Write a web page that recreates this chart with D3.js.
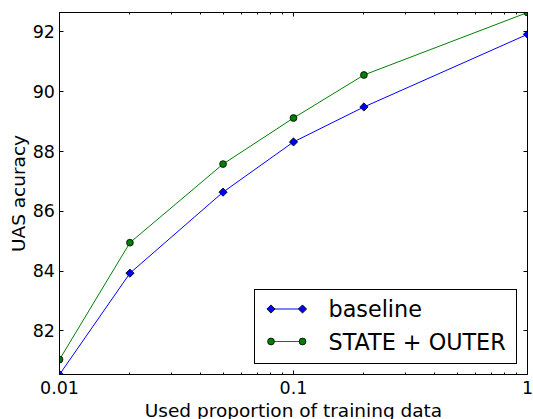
<!DOCTYPE html>
<html>
<head>
<meta charset="utf-8">
<script src="https://cdn.jsdelivr.net/npm/d3@7"></script>
<style>
  html, body { margin: 0; padding: 0; background: #fff; }
  svg { display: block; }
  text { font-family: "DejaVu Sans", sans-serif; fill: #000; }
</style>
</head>
<body>
<svg id="chart" width="533" height="419"></svg>
<script>
// ---- data ----
const proportions = [0.01, 0.02, 0.05, 0.1, 0.2, 1];
const baseline    = [80.54, 83.93, 86.64, 88.32, 89.49, 91.92];
const stateOuter  = [81.04, 84.95, 87.58, 89.12, 90.56, 92.65];
const seriesNames = ["baseline", "STATE + OUTER"];
const xTickValues = [0.01, 0.1, 1];
const xTickLabels = ["0.01", "0.1", "1"];
const yTickValues = [82, 84, 86, 88, 90, 92];
const xLabel = "Used proportion of training data";
const yLabel = "UAS acuracy";

const colors = ["#0000ff", "#008000"];

const svg = d3.select("#chart");
const L = 59.5, R = 527.5, T = 12.5, B = 374.5;

const x = d3.scaleLog().domain([0.01, 1]).range([L, R]);
const allVals = baseline.concat(stateOuter);
const y = d3.scaleLinear().domain(d3.extent(allVals)).range([B, T]);

// clip
svg.append("defs").append("clipPath").attr("id", "clip")
  .append("rect").attr("x", L).attr("y", T).attr("width", R - L).attr("height", B - T);

// minor ticks for x
const minorX = [];
for (let d = 0.01; d < 1; d *= 10) {
  for (let k = 2; k <= 9; k++) minorX.push(+(d * k).toPrecision(3));
}

// ticks group
const tk = svg.append("g").attr("stroke", "#000").attr("stroke-width", 1);
const majLen = 4, minLen = 2;
xTickValues.forEach(v => {
  const px = Math.round(x(v) - 0.5) + 0.5;
  tk.append("line").attr("x1", px).attr("x2", px).attr("y1", B).attr("y2", B - majLen);
  tk.append("line").attr("x1", px).attr("x2", px).attr("y1", T).attr("y2", T + majLen);
});
minorX.forEach(v => {
  const px = Math.round(x(v) - 0.5) + 0.5;
  tk.append("line").attr("x1", px).attr("x2", px).attr("y1", B).attr("y2", B - minLen);
  tk.append("line").attr("x1", px).attr("x2", px).attr("y1", T).attr("y2", T + minLen);
});
yTickValues.forEach(v => {
  const py = Math.round(y(v) - 0.5) + 0.5;
  tk.append("line").attr("x1", L).attr("x2", L + majLen).attr("y1", py).attr("y2", py);
  tk.append("line").attr("x1", R).attr("x2", R - majLen).attr("y1", py).attr("y2", py);
});

// tick labels
xTickValues.forEach((v, i) => {
  svg.append("text").attr("x", x(v)).attr("y", 393.5)
    .attr("text-anchor", "middle").attr("font-size", "17.5px").text(xTickLabels[i]);
});
yTickValues.forEach(v => {
  svg.append("text").attr("x", L - 4.5).attr("y", y(v))
    .attr("text-anchor", "end").attr("dominant-baseline", "central")
    .attr("font-size", "17.5px").text(v);
});

// axis labels
svg.append("text").attr("x", (L + R) / 2).attr("y", 417)
  .attr("text-anchor", "middle").attr("font-size", "18.5px").text(xLabel);
svg.append("text")
  .attr("transform", `translate(25,${(T + B) / 2}) rotate(-90)`)
  .attr("text-anchor", "middle").attr("font-size", "18.5px").text(yLabel);

// series
const series = [baseline, stateOuter];
const plot = svg.append("g").attr("clip-path", "url(#clip)");
const line = d3.line().x(d => x(d[0])).y(d => y(d[1]));
const diamond = d3.symbol().type(d3.symbolSquare).size(32);

function drawMarker(g, i, cx, cy) {
  if (i === 0) {
    g.append("rect").attr("x", cx - 2.9).attr("y", cy - 2.9).attr("width", 5.8).attr("height", 5.8)
      .attr("transform", `rotate(45,${cx},${cy})`)
      .attr("fill", colors[i]).attr("stroke", "#000").attr("stroke-width", 0.8);
  } else {
    g.append("circle").attr("cx", cx).attr("cy", cy).attr("r", 3.4)
      .attr("fill", colors[i]).attr("stroke", "#000").attr("stroke-width", 0.8);
  }
}

series.forEach((vals, i) => {
  const pts = proportions.map((p, j) => [p, vals[j]]);
  plot.append("path").attr("d", line(pts)).attr("fill", "none")
    .attr("stroke", colors[i]).attr("stroke-width", 1);
});
series.forEach((vals, i) => {
  proportions.forEach((p, j) => drawMarker(plot, i, x(p), y(vals[j])));
});

// frame
svg.append("rect").attr("x", L).attr("y", T).attr("width", R - L).attr("height", B - T)
  .attr("fill", "none").attr("stroke", "#000").attr("stroke-width", 1);

// legend
const lg = svg.append("g");
lg.append("rect").attr("x", 254.5).attr("y", 289.5).attr("width", 262).attr("height", 74)
  .attr("fill", "#fff").attr("stroke", "#000").attr("stroke-width", 1);
const rowsY = [309, 341.5];
seriesNames.forEach((name, i) => {
  const ry = rowsY[i];
  lg.append("line").attr("x1", 271).attr("x2", 302.5).attr("y1", ry).attr("y2", ry)
    .attr("stroke", colors[i]).attr("stroke-width", 1);
  drawMarker(lg, i, 271, ry);
  drawMarker(lg, i, 302.5, ry);
  lg.append("text").attr("x", 328.5).attr("y", ry).attr("dominant-baseline", "central")
    .attr("font-size", "22.3px").text(name);
});
</script>
</body>
</html>
